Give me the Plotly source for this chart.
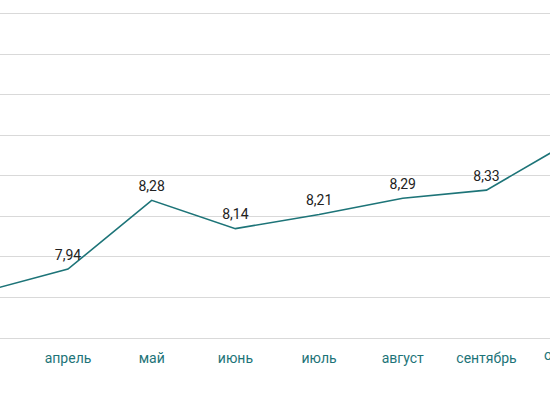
import plotly.graph_objects as go

months = ["март", "апрель", "май", "июнь", "июль", "август", "сентябрь", "октябрь"]
values = [7.83, 7.94, 8.28, 8.14, 8.21, 8.29, 8.33, 8.57]
# labels of off-screen points are not visible in the reference
labels = ["", "7,94", "8,28", "8,14", "8,21", "8,29", "8,33", ""]

teal = "#1d7478"
xs = list(range(len(months)))
x_range = [0.1876, 6.759]

fig = go.Figure()
fig.add_trace(go.Scatter(
    x=xs, y=values, mode="lines+markers+text",
    line=dict(color=teal, width=1.6),
    marker=dict(size=8, color="rgba(0,0,0,0)"),
    text=labels, textposition="top center",
    textfont=dict(family="Roboto, sans-serif", size=14, color="#222222"),
    hoverinfo="skip",
))

# partially visible last month label (outside axis range)
px_last = (xs[-1] - x_range[0]) / (x_range[1] - x_range[0])
fig.add_annotation(x=px_last, y=0, xref="paper", yref="paper", xanchor="center",
                   yanchor="top", yshift=-7, text=months[-1], showarrow=False,
                   font=dict(family="Roboto, sans-serif", size=14, color=teal))

fig.update_layout(
    width=550, height=410,
    margin=dict(l=0, r=0, t=0, b=72),
    paper_bgcolor="white", plot_bgcolor="white",
    showlegend=False,
    xaxis=dict(
        range=x_range,
        tickmode="array", tickvals=xs, ticktext=months,
        showgrid=False, zeroline=False,
        showline=True, linecolor="#d9d9d9", linewidth=1,
        ticks="outside", ticklen=7, tickcolor="rgba(0,0,0,0)",
        tickfont=dict(family="Roboto, sans-serif", size=14, color=teal),
    ),
    yaxis=dict(
        range=[7.6, 9.269], dtick=0.2, tick0=7.6,
        showticklabels=False, showgrid=True, gridcolor="#d9d9d9", gridwidth=1,
        zeroline=False, showline=False,
    ),
)
fig.write_html("out.html")
